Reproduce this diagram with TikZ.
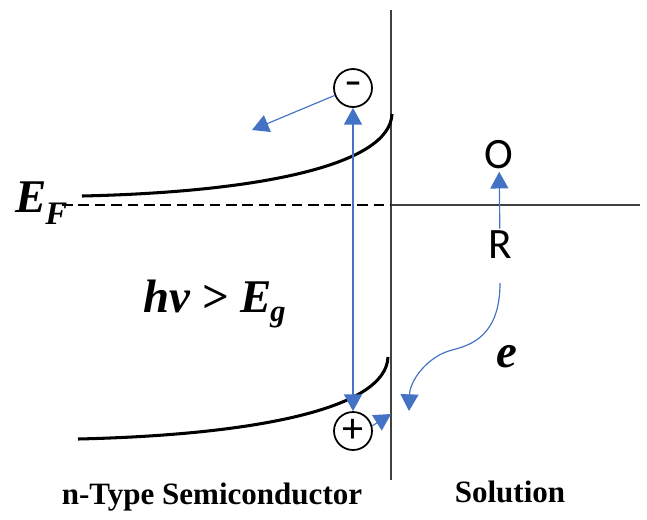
\documentclass[tikz,border=0pt]{standalone}
\usepackage{fontspec}
\setmainfont{Liberation Serif}
\newfontfamily\calibri{Carlito}
\usetikzlibrary{arrows.meta}
\definecolor{flowblue}{HTML}{4472C4}
\definecolor{wallgray}{HTML}{404040}

\begin{document}
\begin{tikzpicture}[x=0.03cm, y=-0.03cm,
    carrier/.style={draw, circle, line width=1.5pt, minimum size=1.14cm, inner sep=0pt, font=\calibri\fontsize{36}{36}\selectfont},
    flow/.style={-{Triangle[length=5mm, width=5.4mm]}, flowblue, line width=1pt},
    band/.style={line width=2.6pt},
    sym/.style={font=\bfseries\itshape\fontsize{40}{44}\selectfont, inner sep=0pt},
    species/.style={font=\calibri\fontsize{37}{40}\selectfont, inner sep=2pt},
    caption/.style={font=\bfseries\fontsize{26.5}{30}\selectfont}
]
\useasboundingbox (0,0) rectangle (647,519);

% interface and energy levels
\draw[wallgray, line width=1.2pt] (391,10) -- (391,480);
\draw[wallgray, line width=0.9pt] (391,205) -- (640,205);
\draw[dashed, line width=1.4pt, dash pattern=on 9pt off 5pt] (62,205) -- (391,205);

% bent bands
\draw[band] (82,196) .. controls (260,192) and (390,165) .. (392,114);
\draw[band] (78,439) .. controls (250,435) and (386,410) .. (388,357);

% labels
\node[sym, anchor=base west] (ef) at (15,212) {E\kern-1pt\raisebox{-0.27em}{\fontsize{28}{30}\selectfont F}};
\node[sym, anchor=base west] (gap) at (143,312) {hv > E\kern-1pt\raisebox{-0.2em}{\fontsize{26}{28}\selectfont g}};
\node[sym, anchor=base] (elab) at (507,367) {e};

% carriers
\node[carrier] (elec) at (353,88) {\bfseries\fontsize{30}{30}\selectfont –};
\node[carrier] (hole) at (353,431) {+};
\coordinate (elecOut) at (252,130);
\coordinate (holeOut) at (391,414);

\draw[flow] (elec.202) -- (elecOut);
\draw[flow, {Triangle[length=5mm, width=5.4mm]}-{Triangle[length=5mm, width=5.4mm]}] (elec) -- (hole);
\draw[flow] (hole.15) -- (holeOut);

% redox couple
\node[species] (ox) at (499,155) {O};
\node[species] (red) at (500,245) {R};
\draw[flow] (red) -- (ox);

\coordinate (eStart) at (500,283);
\coordinate (eEnd) at (409,411);
\draw[flow] (eStart) .. controls (500,335) and (472,345) .. (452,350) .. controls (428,356) and (410,380) .. (eEnd);

% region names
\node[caption] (semi) at (212,497) {n-Type Semiconductor};
\node[caption] (sol) at (510,492) {Solution};

\end{tikzpicture}
\end{document}
